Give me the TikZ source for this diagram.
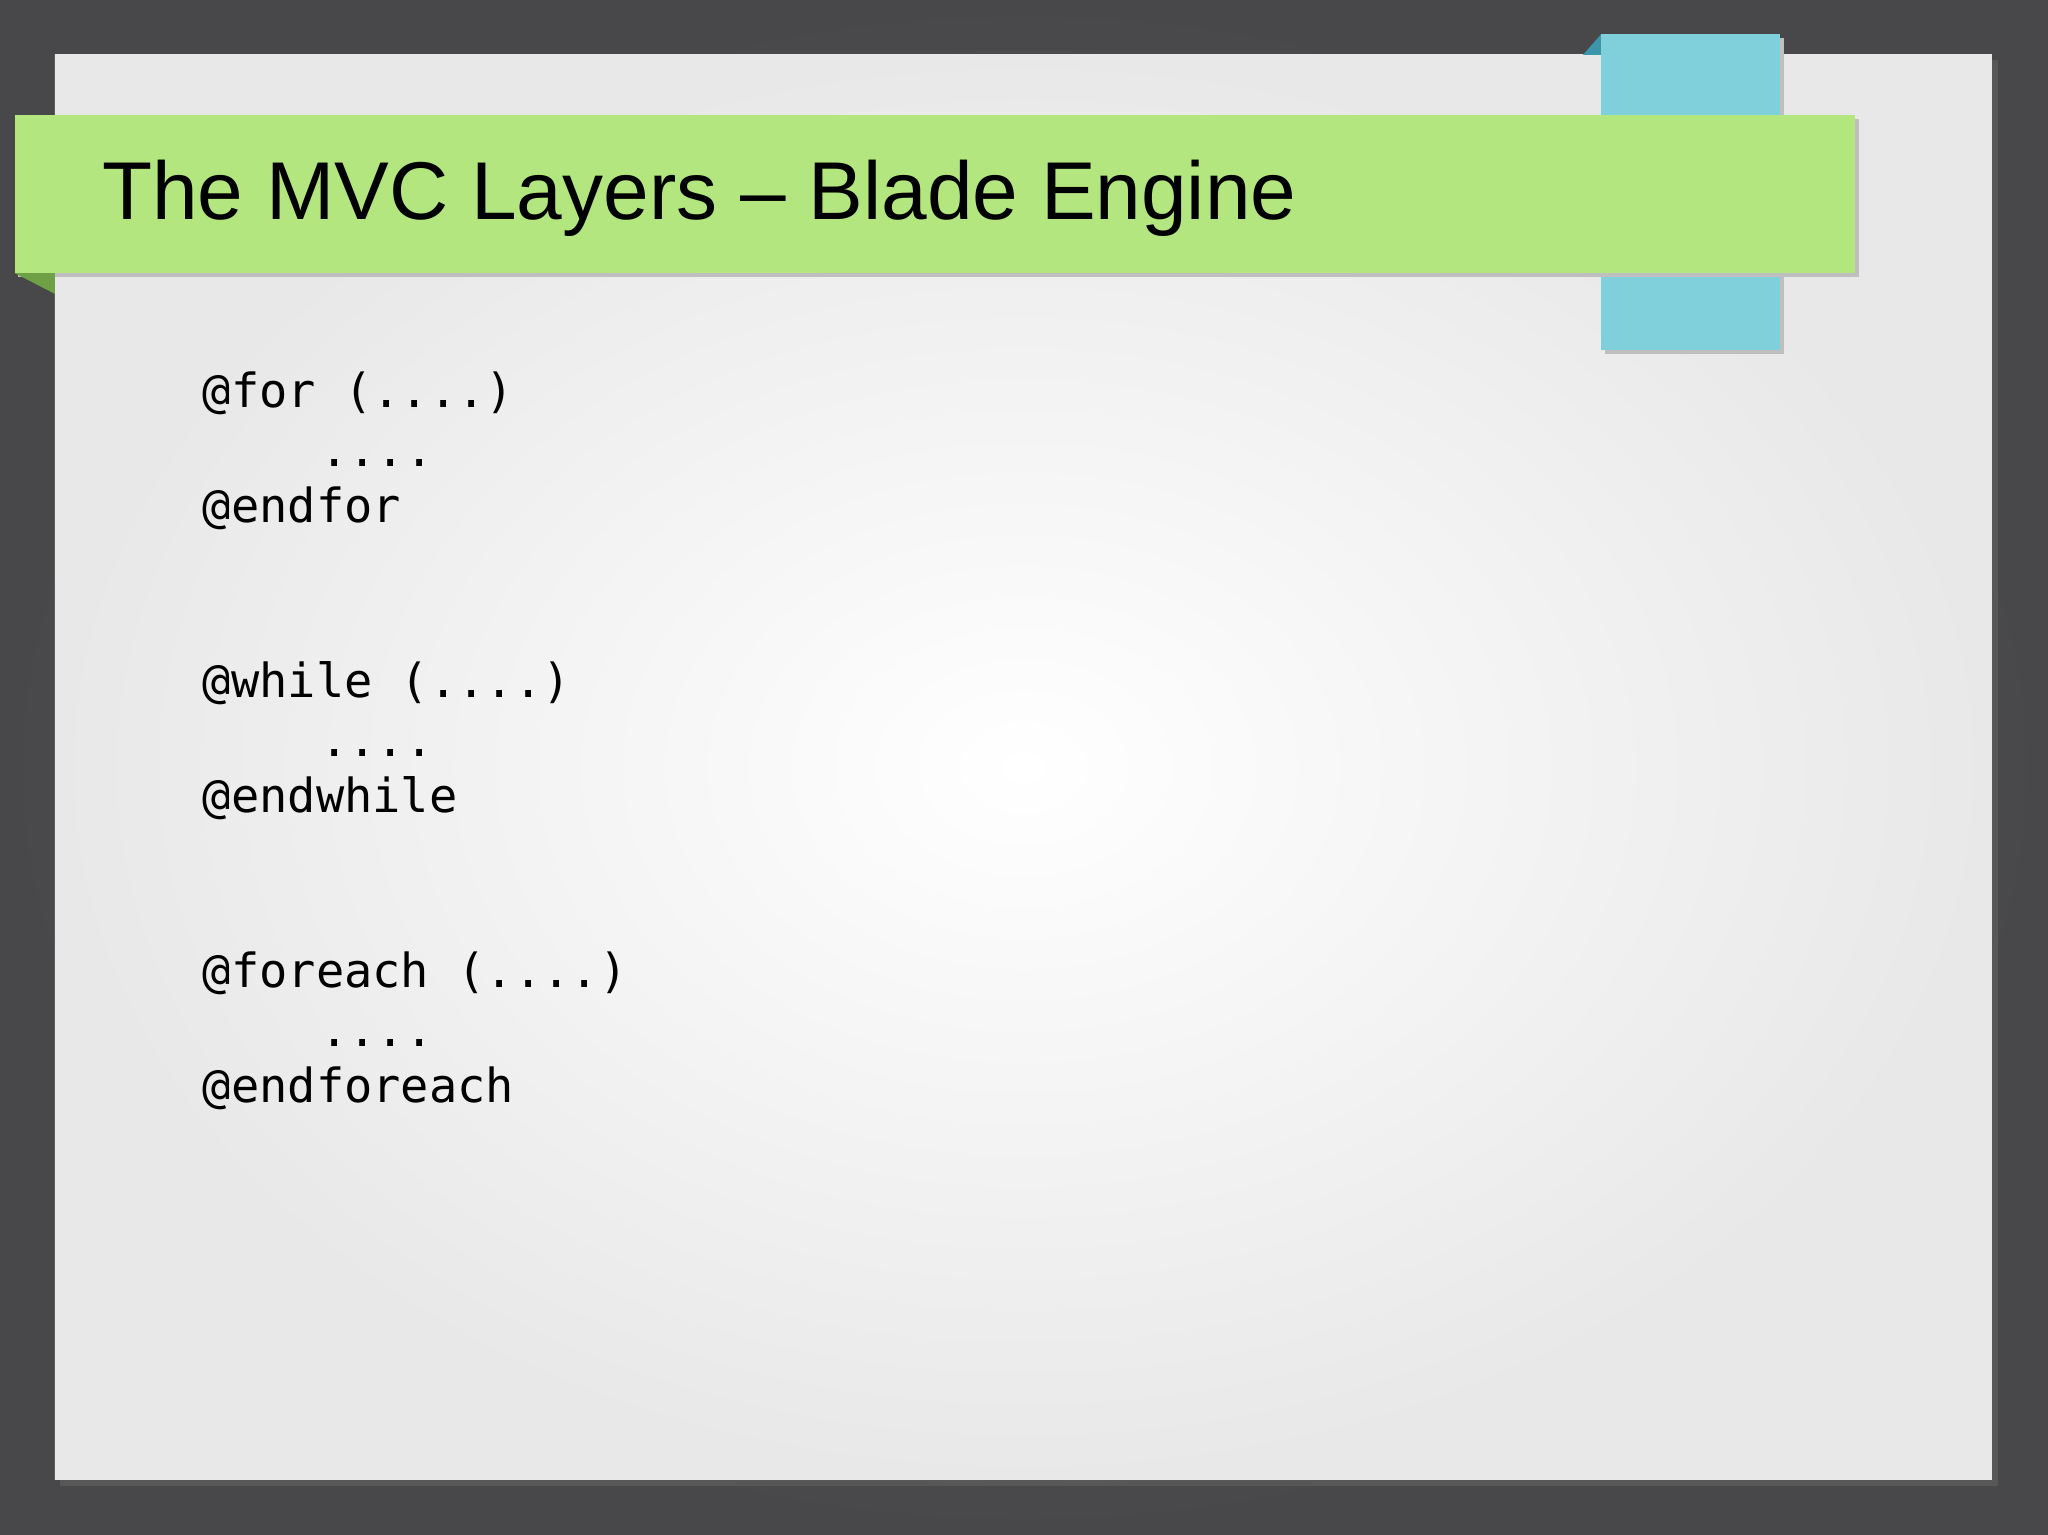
\documentclass[tikz,border=0pt]{standalone}
\usepackage{fontspec}
\setmainfont{Liberation Sans}
\newfontfamily\codefont{DejaVu Sans Mono}
\definecolor{bgdark}{RGB}{72,72,74}
\definecolor{bglight}{RGB}{95,95,97}
\definecolor{tab}{RGB}{128,208,220}
\definecolor{tabdark}{RGB}{60,150,170}
\definecolor{band}{RGB}{179,230,126}
\definecolor{banddark}{RGB}{110,160,70}
\begin{document}
\begin{tikzpicture}[x=0.653pt,y=-0.653pt,
  code/.style={anchor=base west,inner sep=0pt,font=\codefont\fontsize{23.5}{28}\selectfont}]
\useasboundingbox (0,0) rectangle (1568,1175);
\shade[inner color=bglight, outer color=bgdark] (0,0) rectangle (1568,1175);
\fill[black!60,opacity=0.5] (46,46) rectangle (1530,1138);
\shade[inner color=white, outer color=black!9] (42,42) rectangle (1525,1133);
% blue tab
\fill[tabdark] (1212,42) -- (1226,26) -- (1226,42) -- cycle;
\fill[black!25] (1229,29) rectangle (1366,271);
\fill[tab] (1226,26) rectangle (1363,268);
% green band
\fill[black!25] (14,91) rectangle (1423,212);
\fill[banddark] (11,209) -- (42,209) -- (42,225) -- cycle;
\node[fill=band,minimum width=1409*0.653pt,minimum height=121*0.653pt,inner sep=0pt,anchor=north west] (bandnode) at (11,88) {};
\node[anchor=base west,inner sep=0pt,font=\fontsize{41}{50}\selectfont] (title) at (78,168) {The MVC Layers – Blade Engine};
% code
\node[code] (open1) at (155,312) {@for (....)};
\node[code] (dots1) at (245,357) {....};
\node[code] (close1) at (155,400) {@endfor};
\node[code] (open2) at (155,534) {@while (....)};
\node[code] (dots2) at (245,579) {....};
\node[code] (close2) at (155,622) {@endwhile};
\node[code] (open3) at (155,756) {@foreach (....)};
\node[code] (dots3) at (245,801) {....};
\node[code] (close3) at (155,844) {@endforeach};
\end{tikzpicture}
\end{document}
